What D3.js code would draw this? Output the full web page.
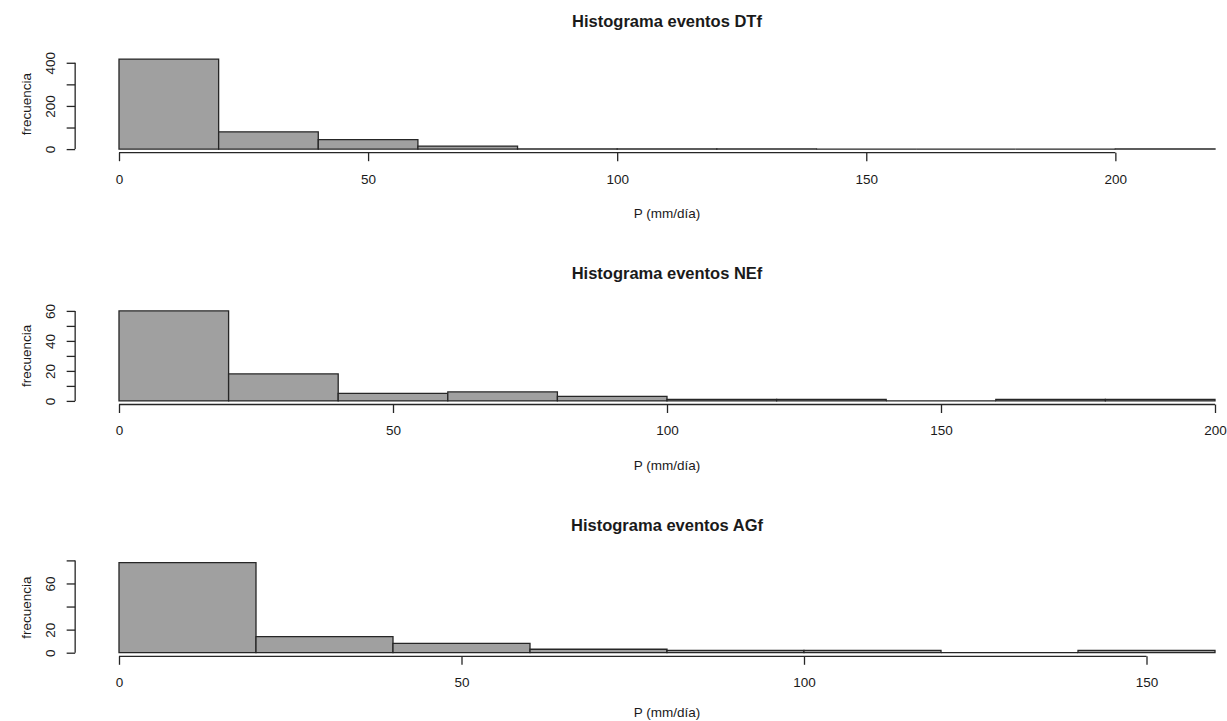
<!DOCTYPE html>
<html>
<head>
<meta charset="utf-8">
<script src="https://cdn.jsdelivr.net/npm/d3@7"></script>
<style>
  html, body { margin: 0; padding: 0; background: #fff; }
  svg { display: block; font-family: "Liberation Sans", Arial, sans-serif; }
</style>
</head>
<body>
<svg id="chart" width="1227" height="721"></svg>
<script>
// Histogram bins (mm/día) and counts for each event type
const titles = ["Histograma eventos DTf", "Histograma eventos NEf", "Histograma eventos AGf"];

const breaksDTf = [0, 20, 40, 60, 80, 100, 120, 140, 160, 180, 200, 220];
const countsDTf = [417, 80, 44, 14, 1, 1, 1, 0, 0, 0, 1];

const breaksNEf = [0, 20, 40, 60, 80, 100, 120, 140, 160, 180, 200];
const countsNEf = [60, 18, 5, 6, 3, 1, 1, 0, 1, 1];

const breaksAGf = [0, 20, 40, 60, 80, 100, 120, 140, 160];
const countsAGf = [78, 14, 8, 3, 2, 2, 0, 2];

// Axis ticks and the labels printed beside them
const xTicksDTf = [0, 50, 100, 150, 200];
const xTicksNEf = [0, 50, 100, 150, 200];
const xTicksAGf = [0, 50, 100, 150];

const yTicksDTf = [0, 100, 200, 300, 400];
const yLabelsDTf = ["0", "", "200", "", "400"];
const yTicksNEf = [0, 10, 20, 30, 40, 50, 60];
const yLabelsNEf = ["0", "", "20", "", "40", "", "60"];
const yTicksAGf = [0, 20, 40, 60, 80];
const yLabelsAGf = ["0", "20", "", "60", ""];

const xLabel = "P (mm/día)";
const yLabel = "frecuencia";

const panels = [
  { title: titles[0], breaks: breaksDTf, counts: countsDTf, xTicks: xTicksDTf, yTicks: yTicksDTf, yLabels: yLabelsDTf },
  { title: titles[1], breaks: breaksNEf, counts: countsNEf, xTicks: xTicksNEf, yTicks: yTicksNEf, yLabels: yLabelsNEf },
  { title: titles[2], breaks: breaksAGf, counts: countsAGf, xTicks: xTicksAGf, yTicks: yTicksAGf, yLabels: yLabelsAGf }
];

const svg = d3.select("#chart");
const ink = "#262626";
const fillGray = "#a0a0a0";
const x0 = 119, x1 = 1215;          // pixel span of [0, last break]
const firstBottom = 152.7, panelStep = 251.8, plotH = 97.2;
const tick = 8.5;

panels.forEach((p, k) => {
  const bottom = firstBottom + panelStep * k;
  const top = bottom - plotH;
  const xmax = p.breaks[p.breaks.length - 1];
  const ymax = d3.max(p.counts);

  const x = d3.scaleLinear().domain([0, xmax]).range([x0, x1]);
  // plot region padded by 4% on each side, like R's default axis style
  const y = d3.scaleLinear().domain([-0.04 * ymax, 1.04 * ymax]).range([bottom, top]);
  const left = x(-0.04 * xmax);
  const g = svg.append("g");

  // bars (paths, so empty bins still show their outline)
  const bins = p.counts.map((c, i) => ({ a: p.breaks[i], b: p.breaks[i + 1], c }));
  g.selectAll("path.bar").data(bins).join("path")
    .attr("class", "bar")
    .attr("d", d => `M${x(d.a)},${y(0)}H${x(d.b)}V${y(d.c)}H${x(d.a)}Z`)
    .attr("fill", fillGray)
    .attr("stroke", ink)
    .attr("stroke-width", 1.3);

  // x axis
  const xa = g.append("g")
    .attr("transform", `translate(0,${bottom})`)
    .call(d3.axisBottom(x).tickValues(p.xTicks).tickSize(tick).tickSizeOuter(0).tickPadding(12.8).tickFormat(d3.format("d")));
  xa.select(".domain").remove();
  xa.append("line")
    .attr("x1", x(p.xTicks[0])).attr("x2", x(p.xTicks[p.xTicks.length - 1]))
    .attr("stroke", ink).attr("stroke-width", 1.3);
  xa.selectAll(".tick line").attr("stroke", ink).attr("stroke-width", 1.3);
  xa.selectAll(".tick text").attr("fill", "#1a1a1a").style("font-size", "13.5px");

  // y axis
  const ya = g.append("g")
    .attr("transform", `translate(${left},0)`)
    .call(d3.axisLeft(y).tickValues(p.yTicks).tickSize(tick).tickSizeOuter(0)
      .tickFormat((d, i) => p.yLabels[i]));
  ya.select(".domain").remove();
  ya.append("line")
    .attr("y1", y(p.yTicks[0])).attr("y2", y(p.yTicks[p.yTicks.length - 1]))
    .attr("stroke", ink).attr("stroke-width", 1.3);
  ya.selectAll(".tick line").attr("stroke", ink).attr("stroke-width", 1.3);
  ya.selectAll(".tick text")
    .attr("transform", "rotate(-90)")
    .attr("x", 0).attr("y", -24.8).attr("dy", "0.35em")
    .attr("text-anchor", "middle")
    .attr("fill", "#1a1a1a")
    .style("font-size", "13.5px");

  // titles and axis names
  const cx = x(xmax / 2);
  g.append("text")
    .attr("x", cx).attr("y", top - 28.5)
    .attr("text-anchor", "middle")
    .attr("font-weight", "bold")
    .style("font-size", "16.5px")
    .attr("fill", "#1a1a1a")
    .text(p.title);

  g.append("text")
    .attr("x", cx).attr("y", Math.min(bottom + 65.3, 717))
    .attr("text-anchor", "middle")
    .style("font-size", "13.5px")
    .attr("fill", "#1a1a1a")
    .text(xLabel);

  g.append("text")
    .attr("transform", `translate(26.5,${(top + bottom) / 2}) rotate(-90)`)
    .attr("text-anchor", "middle")
    .attr("dy", "0.35em")
    .style("font-size", "13.5px")
    .attr("fill", "#1a1a1a")
    .text(yLabel);
});
</script>
</body>
</html>
